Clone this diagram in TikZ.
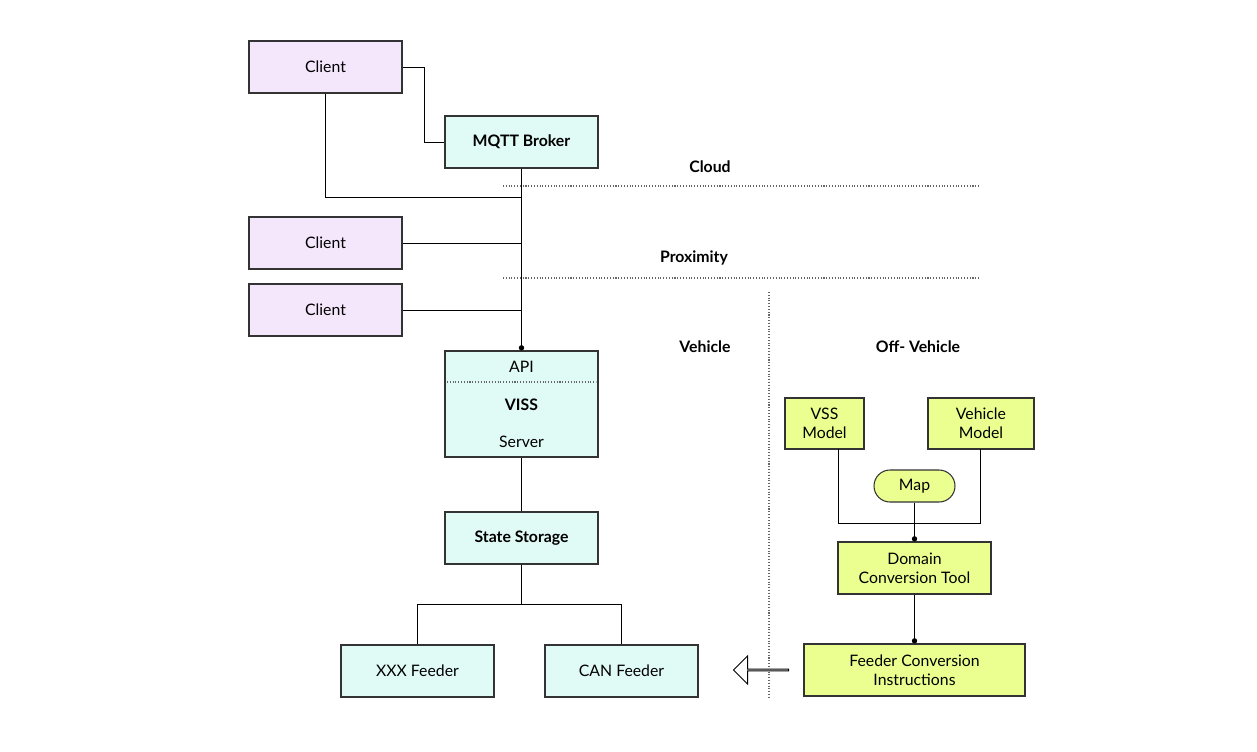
\documentclass[tikz,border=0pt]{standalone}
\usepackage{fontspec}
\setmainfont{Lato}
\usetikzlibrary{shapes.arrows,arrows.meta}
\definecolor{lav}{HTML}{F4E6FB}
\definecolor{teal}{HTML}{E0FAF6}
\definecolor{lime}{HTML}{EAFF8F}
\definecolor{bd}{HTML}{333333}
\begin{document}
\begin{tikzpicture}[x=0.02cm,y=-0.02cm,font=\fontsize{9}{11}\selectfont,
 box/.style={draw=bd,line width=0.6pt,minimum width=153*0.02cm,minimum height=52*0.02cm,inner sep=0pt,align=center},
 cl/.style={box,fill=lav}, tl/.style={box,fill=teal}, lm/.style={box,fill=lime},
 ln/.style={line width=0.5pt},
 dot/.style={ln,-{Circle[length=3pt]}},
 sep/.style={densely dotted,line width=0.6pt,gray!80!black},
 lab/.style={font=\fontsize{9}{11}\selectfont\bfseries}]
\useasboundingbox (0,0) rectangle (1257,751);
\node[cl] (c1) at (325.5,67) {Client};
\node[tl,font=\fontsize{9}{11}\selectfont\bfseries] (mq) at (521.5,142) {MQTT Broker};
\node[cl] (c2) at (325.5,243) {Client};
\node[cl] (c3) at (325.5,310) {Client};
\node[tl,minimum height=106*0.02cm] (vi) at (521.5,404) {};
\node (api) at (521.5,367) {API};
\node[font=\fontsize{9}{11}\selectfont\bfseries] (vs) at (521.5,405) {VISS};
\node (sv) at (521.5,442) {Server};
\draw[sep] (447,382) -- (596,382);
\node[tl,font=\fontsize{9}{11}\selectfont\bfseries] (ss) at (521.5,538) {State Storage};
\node[tl] (xx) at (417.5,671) {XXX Feeder};
\node[tl] (can) at (621.5,671) {CAN Feeder};
\node[lm,minimum width=221*0.02cm] (fc) at (914.5,670) {Feeder Conversion\\Instructions};
\node[lm] (dc) at (914.5,568) {Domain\\Conversion Tool};
\node[lm,minimum width=79*0.02cm,minimum height=51*0.02cm] (vss) at (824.5,423.5) {VSS\\Model};
\node[lm,minimum width=106*0.02cm,minimum height=51*0.02cm] (vm) at (981,423.5) {Vehicle\\Model};
\node[lm,rounded corners=16*0.02cm,minimum width=81*0.02cm,minimum height=32*0.02cm] (map) at (914.5,486) {Map};
% connectors
\draw[ln] (c1.east) -- (424,67) -- (424,142) -- (mq.west);
\coordinate (j1) at (521.5,197);
\draw[ln] (c1.south) -- (325.5,197) -- (j1);
\draw[dot] (mq.south) -- (vi.north);
\draw[ln] (c2.east) -- (521.5,243);
\draw[ln] (c3.east) -- (521.5,310);
\draw[ln] (vi.south) -- (ss.north);
\draw[ln] (ss.south) -- (521.5,604) -- (417.5,604) -- (xx.north);
\draw[ln] (521.5,604) -- (621.5,604) -- (can.north);
\draw[ln] (838,449) -- (838,523) -- (980,523) -- (980,449);
\draw[dot] (map.south) -- (dc.north);
\draw[dot] (dc.south) -- (fc.north);
% separators
\draw[sep] (503,186) -- (980,186);
\draw[sep] (503,278) -- (980,278);
\draw[sep] (769,292) -- (769,697);
\node[lab] (tc) at (710,167) {Cloud};
\node[lab] (tp) at (694,258) {Proximity};
\node[lab] (tv) at (705,347) {Vehicle};
\node[lab] (to) at (918,347) {Off- Vehicle};
\node[single arrow,draw=black,fill=white,shape border rotate=180,minimum width=28*0.02cm,minimum height=55*0.02cm,single arrow head extend=7*0.02cm,inner sep=0pt,line width=0.5pt] (ar) at (761.5,670) {};
\end{tikzpicture}
\end{document}
